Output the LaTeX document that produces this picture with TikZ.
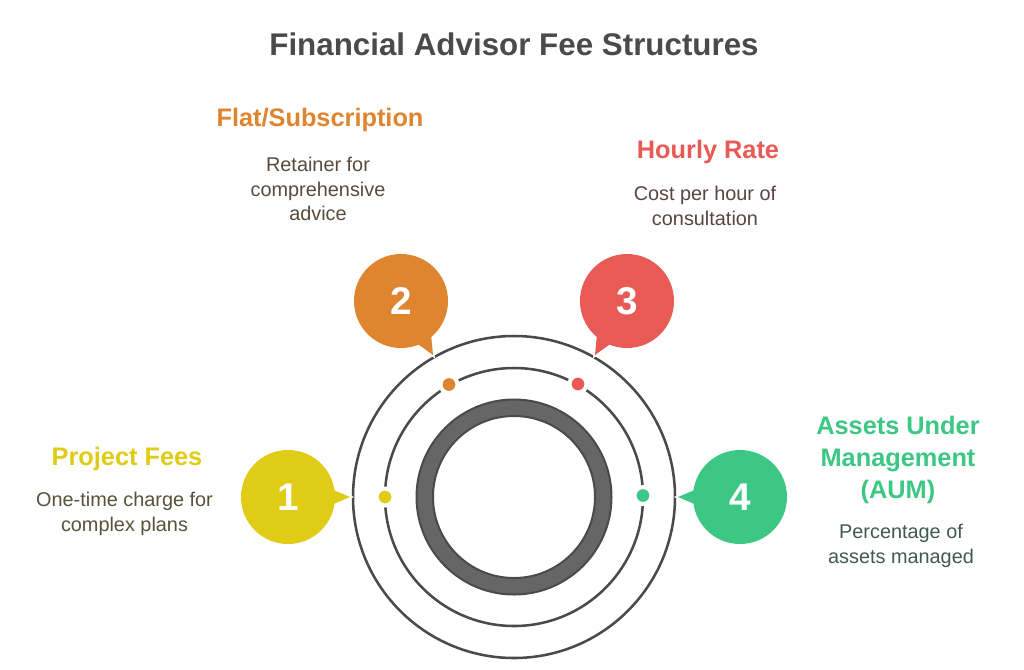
\documentclass[tikz,border=0pt]{standalone}
\usepackage{fontspec}
\setmainfont{Liberation Sans}
\definecolor{cy}{HTML}{E0CC14}
\definecolor{co}{HTML}{DF8530}
\definecolor{cr}{HTML}{E85A56}
\definecolor{cg}{HTML}{3CC785}
\definecolor{ring}{HTML}{4A4A4A}
\definecolor{thick}{HTML}{666666}
\definecolor{ty}{HTML}{55533A}
\definecolor{to}{HTML}{5A4A3E}
\definecolor{tr}{HTML}{5A4444}
\definecolor{tg}{HTML}{3F5A50}
\tikzset{
 ringl/.style={draw=ring,line width=1.9pt,fill=none},
 bubble/.style={circle,minimum size=70.5pt,inner sep=0pt,text=white,font=\bfseries\fontsize{29}{29}\selectfont},
 dot/.style={circle,draw=white,line width=3pt,minimum size=12.75pt,inner sep=0pt},
 tailgap/.style={preaction={draw=white,line width=2.4pt,line join=miter}},
 head/.style={font=\bfseries\fontsize{19}{24}\selectfont,align=center},
 body/.style={font=\fontsize{14.9}{18.6}\selectfont,align=center,text=#1},
 title/.style={font=\bfseries\fontsize{23.5}{30}\selectfont,text=ring}
}
\begin{document}
\begin{tikzpicture}[x=0.75pt,y=-0.75pt]
\useasboundingbox (0,0) rectangle (1024,669);
\fill[white] (0,0) rectangle (1024,669);
\coordinate (c) at (514,497);
\draw[ringl] (c) circle (161);
\draw[ringl] (c) circle (129);
\draw[draw=ring,line width=1.5pt,fill=thick,even odd rule] (c) circle (97.5) (c) circle (81);
% tails with a white halo that cuts the outer ring
\path[tailgap,fill=cy] (330,488.5) -- (350,497) -- (330,505.5) -- cycle;
\path[tailgap,fill=cg] (698,488.5) -- (678,497) -- (698,505.5) -- cycle;
\path[tailgap,fill=co] (415,342) -- (433,355) -- (431,334) -- cycle;
\path[tailgap,fill=cr] (613,342) -- (595,355) -- (597,334) -- cycle;
\node[bubble,fill=cy] (n1) at (288,497) {1};
\node[bubble,fill=co] (n2) at (401,301) {2};
\node[bubble,fill=cr] (n3) at (627,301) {3};
\node[bubble,fill=cg] (n4) at (740,497) {4};
\node[dot,fill=cy] (d1) at (385,497) {};
\node[dot,fill=co] (d2) at (449,384.5) {};
\node[dot,fill=cr] (d3) at (578,384) {};
\node[dot,fill=cg] (d4) at (643,495.5) {};
\node[title] (t) at (514,44) {Financial Advisor Fee Structures};
\node[head,text=co] (h2) at (320,119.5) {Flat/Subscription};
\node[body=to] (b2) at (318,189) {Retainer for\\comprehensive\\advice};
\node[head,text=cr] (h3) at (708,151.5) {Hourly Rate};
\node[body=tr] (b3) at (705,206) {Cost per hour of\\consultation};
\node[head,text=cy] (h1) at (127,458.5) {Project Fees};
\node[body=ty] (b1) at (124.5,514) {One-time charge for\\complex plans};
\node[head,text=cg] (h4) at (898,459.5) {Assets Under\\Management\\(AUM)};
\node[body=tg] (b4) at (901,546) {Percentage of\\assets managed};
\end{tikzpicture}
\end{document}
